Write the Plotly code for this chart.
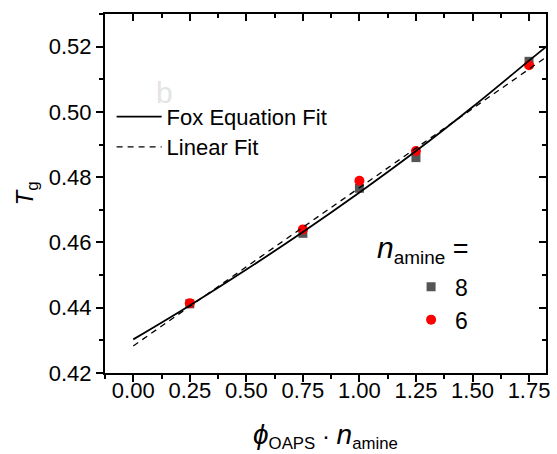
import plotly.graph_objects as go

# ---- data ----
x_pts = [0.25, 0.75, 1.00, 1.25, 1.75]
tg_n8 = [0.4412, 0.4628, 0.4766, 0.4860, 0.5155]
tg_n6 = [0.4414, 0.4640, 0.4789, 0.4880, 0.5143]

fox_x = [0.0, 0.25, 0.50, 0.75, 1.00, 1.25, 1.50, 1.75, 1.83]
fox_y = [0.4303, 0.4407, 0.4517, 0.4632, 0.4753, 0.4880, 0.5015, 0.5157, 0.5202]

lin_x = [0.0, 1.83]
lin_y = [0.4283, 0.5170]

x_ticks = [0.00, 0.25, 0.50, 0.75, 1.00, 1.25, 1.50, 1.75]
x_ticklabels = ["0.00", "0.25", "0.50", "0.75", "1.00", "1.25", "1.50", "1.75"]
y_ticks = [0.42, 0.44, 0.46, 0.48, 0.50, 0.52]
y_ticklabels = ["0.42", "0.44", "0.46", "0.48", "0.50", "0.52"]

X_RANGE = [-0.125, 1.825]
Y_RANGE = [0.42, 0.53]
FONT = "Arial, Liberation Sans, sans-serif"

fig = go.Figure()

fig.add_trace(go.Scatter(
    x=x_pts, y=tg_n8, mode="markers", name="8",
    marker=dict(symbol="square", size=9, color="#555555"),
    legend="legend2"))
fig.add_trace(go.Scatter(
    x=x_pts, y=tg_n6, mode="markers", name="6",
    marker=dict(symbol="circle", size=10, color="#ff0000"),
    legend="legend2"))
fig.add_trace(go.Scatter(
    x=fox_x, y=fox_y, mode="lines", name="Fox Equation Fit",
    line=dict(color="black", width=1.8, shape="spline"),
    legend="legend"))
fig.add_trace(go.Scatter(
    x=lin_x, y=lin_y, mode="lines", name="Linear Fit",
    line=dict(color="black", width=1.3, dash="6px,5px"),
    legend="legend3"))
# dummy traces so the extra tick axes are drawn
fig.add_trace(go.Scatter(x=[None], y=[None], xaxis="x2", yaxis="y2",
                         showlegend=False, hoverinfo="skip"))
fig.add_trace(go.Scatter(x=[None], y=[None], xaxis="x3", yaxis="y",
                         showlegend=False, hoverinfo="skip"))

axis_common = dict(showgrid=False, zeroline=False, linecolor="black",
                   linewidth=2, tickcolor="black", tickwidth=2, showline=True)

legend_common = dict(xanchor="left", yanchor="top", bgcolor="rgba(0,0,0,0)",
                     borderwidth=0)

fig.update_layout(
    width=557, height=454,
    margin=dict(l=105, r=7, t=14, b=81),
    plot_bgcolor="white", paper_bgcolor="white",
    font=dict(family=FONT, size=22, color="black"),
    xaxis=dict(range=X_RANGE, tickvals=x_ticks, ticktext=x_ticklabels,
               ticks="", mirror=True, ticklabelstandoff=-3,
               tickfont=dict(size=22),
               **axis_common),
    xaxis3=dict(range=X_RANGE, overlaying="x", side="bottom", anchor="y",
                tickvals=x_ticks, showticklabels=False, ticks="outside",
                ticklen=7, mirror=True,
                minor=dict(dtick=0.125, tick0=0, ticks="outside", ticklen=4,
                           tickwidth=2, tickcolor="black"),
                **axis_common),
    yaxis=dict(range=Y_RANGE, tickvals=y_ticks, ticktext=y_ticklabels,
               ticks="outside", ticklen=7, mirror=True,
               minor=dict(dtick=0.01, tick0=0.42, ticks="outside", ticklen=4,
                          tickwidth=2, tickcolor="black"),
               tickfont=dict(size=22),
               title=dict(text="<i>T</i><sub>g</sub>", font=dict(size=24), standoff=8),
               **axis_common),
    xaxis2=dict(range=X_RANGE, overlaying="x", side="top", anchor="y",
                tickvals=x_ticks, showticklabels=False, ticks="inside",
                ticklen=7, mirror=True,
                minor=dict(dtick=0.125, tick0=0, ticks="inside", ticklen=4,
                           tickwidth=2, tickcolor="black"),
                **axis_common),
    yaxis2=dict(range=Y_RANGE, overlaying="y", side="right", anchor="x",
                tickvals=y_ticks, showticklabels=False, ticks="inside",
                ticklen=7, mirror=True,
                minor=dict(dtick=0.01, tick0=0.42, ticks="inside", ticklen=4,
                           tickwidth=2, tickcolor="black"),
                **axis_common),
    legend=dict(x=0.015, y=0.772, font=dict(size=22), itemwidth=45, **legend_common),
    legend3=dict(x=0.015, y=0.688, font=dict(size=22), itemwidth=45, **legend_common),
    legend2=dict(x=0.685, y=0.30, font=dict(size=23), itemwidth=38, **legend_common),
    showlegend=True,
    annotations=[
        dict(text="<span style='font-size:28px'><i>ϕ</i></span><sub>OAPS</sub> · "
                  "<span style='font-size:28px'><i>n</i></span><sub>amine</sub>",
             xref="paper", yref="paper", x=0.5, y=-0.175,
             xanchor="center", yanchor="middle", showarrow=False,
             font=dict(size=24, color="black")),
        dict(text="<span style='font-size:30px'><i>n</i></span><sub>amine</sub> =",
             xref="paper", yref="paper", x=0.613, y=0.345,
             xanchor="left", yanchor="middle", showarrow=False,
             font=dict(size=27, color="black")),
        dict(text="b", xref="paper", yref="paper", x=0.135, y=0.78,
             xanchor="center", yanchor="middle", showarrow=False,
             font=dict(size=30, color="#e4e4e4")),
    ],
)

fig.write_html("out.html", config={"displayModeBar": False},
               post_script="document.body.style.margin='0';")
